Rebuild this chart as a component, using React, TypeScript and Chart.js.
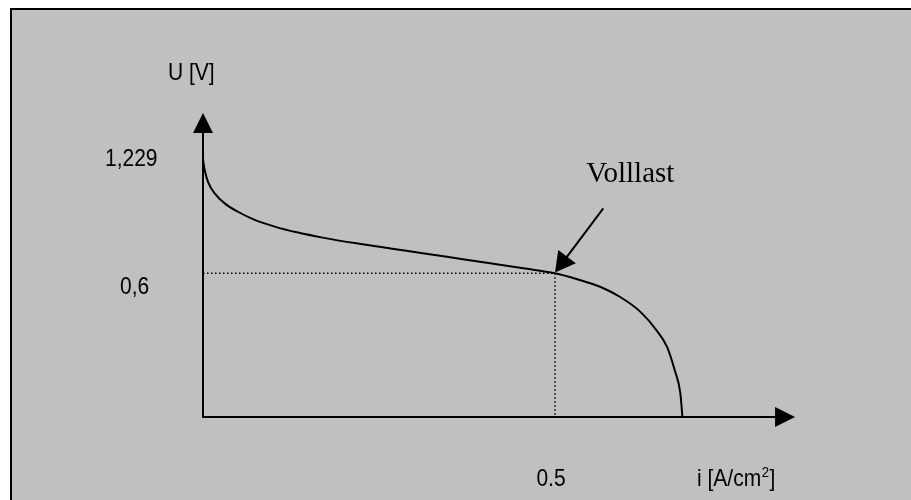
import React, { useEffect, useRef } from "react";
import { Chart, registerables } from "chart.js";

Chart.register(...registerables);

// Polarisation curve (current density i in A/cm², cell voltage U in V)
const currentDensity = [
  0, 0.0007, 0.0024, 0.0071, 0.0166, 0.0308, 0.0497, 0.0734, 0.1018, 0.135,
  0.17, 0.218, 0.266, 0.312, 0.36, 0.408, 0.455, 0.5, 0.5327, 0.564, 0.592,
  0.621, 0.644, 0.659, 0.67, 0.678, 0.681,
];
const voltage = [
  1.081, 1.061, 1.031, 0.982, 0.934, 0.892, 0.857, 0.823, 0.795, 0.77, 0.749,
  0.725, 0.704, 0.684, 0.663, 0.642, 0.621, 0.6, 0.574, 0.544, 0.502, 0.44,
  0.363, 0.294, 0.196, 0.1, 0,
];

// Full-load operating point
const operatingI = [0, 0.5, 0.5];
const operatingU = [0.6, 0.6, 0];

// Annotation arrow (start -> operating point)
const annotationI = [0.5686, 0.5];
const annotationU = [0.871, 0.603];
const annotationText = "Volllast";

// Axis extents (arrow tips) in data units
const axisEndI = 0.841;
const axisEndU = 1.269;

const yTickLabels = ["1,229", "0,6"];
const xTickLabels = ["0.5"];
const yAxisTitle = "U [V]";
const xAxisTitleParts = ["i [A/cm", "2", "]"];

const SANS = '"Liberation Sans", Arial, sans-serif';
const SERIF = '"Liberation Serif", "Times New Roman", serif';
const CONDENSE = 0.875;

function arrowHead(
  ctx: CanvasRenderingContext2D,
  tx: number,
  ty: number,
  fx: number,
  fy: number,
  len: number,
  halfW: number
) {
  const dx = tx - fx;
  const dy = ty - fy;
  const d = Math.hypot(dx, dy) || 1;
  const ux = dx / d;
  const uy = dy / d;
  const bx = tx - ux * len;
  const by = ty - uy * len;
  ctx.beginPath();
  ctx.moveTo(tx, ty);
  ctx.lineTo(bx - uy * halfW, by + ux * halfW);
  ctx.lineTo(bx + uy * halfW, by - ux * halfW);
  ctx.closePath();
  ctx.fill();
}

// draw condensed sans text, left-aligned at x (returns advance width)
function sansText(
  ctx: CanvasRenderingContext2D,
  text: string,
  x: number,
  y: number,
  size: number,
  align: "left" | "center" = "left"
) {
  ctx.save();
  ctx.font = `${size}px ${SANS}`;
  const w = ctx.measureText(text).width * CONDENSE;
  const left = align === "center" ? x - w / 2 : x;
  ctx.translate(left, y);
  ctx.scale(CONDENSE, 1);
  ctx.textAlign = "left";
  ctx.textBaseline = "alphabetic";
  ctx.fillText(text, 0, 0);
  ctx.restore();
  return w;
}

const framePlugin = {
  id: "frame",
  beforeDraw(chart: any) {
    const ctx = chart.ctx as CanvasRenderingContext2D;
    const w = chart.width;
    const h = chart.height;
    ctx.save();
    ctx.fillStyle = "#ffffff";
    ctx.fillRect(0, 0, w, h);
    ctx.fillStyle = "#c0c0c0";
    ctx.fillRect(10, 8, w - 10, h - 8);
    ctx.strokeStyle = "#000000";
    ctx.lineWidth = 2;
    ctx.beginPath();
    ctx.moveTo(11, h);
    ctx.lineTo(11, 9);
    ctx.lineTo(w, 9);
    ctx.stroke();
    ctx.restore();
  },
  beforeDatasetsDraw(chart: any) {
    const ctx = chart.ctx as CanvasRenderingContext2D;
    const xs = chart.scales.x;
    const ys = chart.scales.y;
    const x0 = xs.getPixelForValue(0);
    const y0 = ys.getPixelForValue(0);
    const xEnd = xs.getPixelForValue(axisEndI);
    const yEnd = ys.getPixelForValue(axisEndU);
    ctx.save();
    ctx.strokeStyle = "#000";
    ctx.fillStyle = "#000";
    ctx.lineWidth = 2;
    ctx.beginPath();
    ctx.moveTo(x0, yEnd + 18);
    ctx.lineTo(x0, y0);
    ctx.lineTo(xEnd - 18, y0);
    ctx.stroke();
    arrowHead(ctx, x0, yEnd, x0, y0, 20, 10);
    arrowHead(ctx, xEnd, y0, x0, y0, 20, 10);
    ctx.restore();
  },
  afterDatasetsDraw(chart: any) {
    const ctx = chart.ctx as CanvasRenderingContext2D;
    const xs = chart.scales.x;
    const ys = chart.scales.y;
    ctx.save();
    ctx.fillStyle = "#000";
    ctx.strokeStyle = "#000";

    // annotation arrow
    const ax0 = xs.getPixelForValue(annotationI[0]);
    const ay0 = ys.getPixelForValue(annotationU[0]);
    const ax1 = xs.getPixelForValue(annotationI[1]);
    const ay1 = ys.getPixelForValue(annotationU[1]);
    ctx.lineWidth = 2;
    ctx.beginPath();
    ctx.moveTo(ax0, ay0);
    const d = Math.hypot(ax1 - ax0, ay1 - ay0);
    ctx.lineTo(ax1 - ((ax1 - ax0) / d) * 16, ay1 - ((ay1 - ay0) / d) * 16);
    ctx.stroke();
    arrowHead(ctx, ax1, ay1, ax0, ay0, 20, 11);

    ctx.textAlign = "left";
    ctx.textBaseline = "alphabetic";
    ctx.font = `29px ${SERIF}`;
    ctx.fillText(annotationText, ax0 - 17, ay0 - 26);

    const S = 24;
    // y axis title and ticks
    const xAxisPix = xs.getPixelForValue(0);
    sansText(ctx, yAxisTitle, xAxisPix - 35, 80, S);
    sansText(ctx, yTickLabels[0], xAxisPix - 98, ys.getPixelForValue(voltage[0]) + 8, S);
    sansText(ctx, yTickLabels[1], xAxisPix - 83, ys.getPixelForValue(operatingU[0]) + 21, S);

    // x ticks and title
    const baseX = ys.getPixelForValue(0) + 69;
    sansText(ctx, xTickLabels[0], xs.getPixelForValue(operatingI[1]) - 4, baseX, S, "center");
    let tx = 697;
    tx += sansText(ctx, xAxisTitleParts[0], tx, baseX, S);
    tx += sansText(ctx, xAxisTitleParts[1], tx + 0.5, baseX - 9, 15) + 1;
    sansText(ctx, xAxisTitleParts[2], tx, baseX, S);
    ctx.restore();
  },
};

export default function App() {
  const ref = useRef<HTMLCanvasElement | null>(null);

  useEffect(() => {
    if (!ref.current) return;
    const curve = currentDensity.map((x, i) => ({ x, y: voltage[i] }));
    const op = operatingI.map((x, i) => ({ x, y: operatingU[i] }));
    const chart = new Chart(ref.current, {
      type: "line",
      data: {
        datasets: [
          {
            data: op,
            borderColor: "#000",
            borderWidth: 1.5,
            borderDash: [1.5, 2.5],
            pointRadius: 0,
            tension: 0,
            fill: false,
          },
          {
            data: curve,
            borderColor: "#000",
            borderWidth: 2,
            pointRadius: 0,
            cubicInterpolationMode: "monotone",
            fill: false,
          },
        ],
      },
      options: {
        responsive: false,
        animation: false,
        events: [],
        layout: { padding: { left: 203, right: 4, top: 57.75, bottom: 83 } },
        plugins: {
          legend: { display: false },
          tooltip: { enabled: false },
          title: { display: false },
        },
        scales: {
          x: { type: "linear", min: 0, max: 1, display: false },
          y: { type: "linear", min: 0, max: 1.5, display: false },
        },
      },
      plugins: [framePlugin],
    });
    return () => chart.destroy();
  }, []);

  return (
    <div style={{ position: "fixed", left: 0, top: 0, width: 911, height: 500 }}>
      <canvas ref={ref} width={911} height={500} style={{ display: "block" }} />
    </div>
  );
}
